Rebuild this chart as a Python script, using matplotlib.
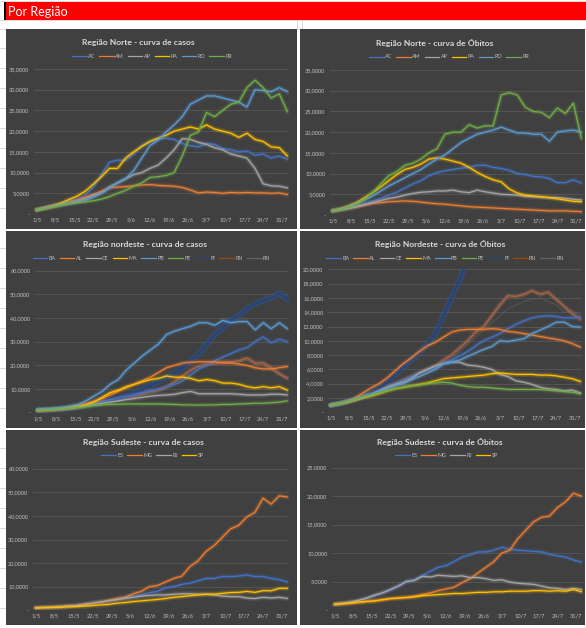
import numpy as np
import matplotlib
matplotlib.use("Agg")
import matplotlib.pyplot as plt
from matplotlib.patches import Rectangle
from matplotlib.lines import Line2D

plt.rcParams['font.family'] = ['Lato', 'DejaVu Sans']

W, H = 586, 628

# sample days (0 = 1/5), every 3 days
DAYS = [0, 3, 6, 9, 12, 15, 18, 21, 24, 27, 30, 33, 36, 39, 42, 45,
        48, 51, 54, 57, 60, 63, 66, 69, 72, 75, 78, 81, 84, 87, 90, 93]
TICK_DAYS = [0, 7, 14, 21, 28, 35, 42, 49, 56, 63, 70, 77, 84, 91]
TICK_LABELS = ['1/5', '8/5', '15/5', '22/5', '29/5', '5/6', '12/6', '19/6',
               '26/6', '3/7', '10/7', '17/7', '24/7', '31/7']

# ---- Região Norte - casos
norte_casos_AC = [1.0, 1.5, 2.0, 2.6, 3.2, 3.5, 4.5, 6.5, 9.5, 12.5, 13.0, 13.0, 14.5, 16.5, 17.5, 18.0,
                  18.3, 18.0, 17.0, 16.5, 16.2, 17.0, 16.8, 15.8, 15.5, 15.0, 15.2, 14.2, 14.5, 13.5, 14.0, 13.2]
norte_casos_AM = [1.0, 1.4, 1.8, 2.3, 2.8, 3.3, 4.0, 4.7, 5.5, 6.3, 6.5, 6.6, 6.8, 7.0, 7.1, 6.9,
                  6.8, 6.7, 6.4, 5.8, 5.1, 5.3, 5.2, 5.0, 5.2, 5.1, 5.2, 5.1, 5.1, 5.0, 5.1, 4.7]
norte_casos_AP = [1.0, 1.4, 1.8, 2.2, 2.6, 3.0, 3.6, 4.5, 5.0, 6.5, 7.5, 8.5, 9.5, 10.0, 11.0, 11.8,
                  13.5, 15.5, 18.2, 18.0, 17.3, 16.8, 16.0, 15.5, 14.5, 14.0, 13.5, 11.0, 7.3, 6.8, 6.7, 6.3]
norte_casos_PA = [1.0, 1.5, 2.0, 2.6, 3.5, 4.3, 5.5, 7.2, 9.0, 11.0, 11.0, 13.5, 15.0, 16.3, 17.5, 18.3,
                  19.0, 20.0, 20.5, 21.0, 20.5, 21.5, 20.5, 20.0, 19.5, 18.5, 19.5, 18.0, 17.5, 16.2, 16.0, 14.0]
norte_casos_RO = [1.0, 1.4, 1.8, 2.2, 2.6, 2.9, 3.3, 4.0, 5.0, 6.3, 7.5, 8.5, 10.5, 13.5, 16.5, 17.8,
                  19.8, 21.5, 23.5, 26.5, 27.5, 28.5, 28.5, 28.0, 27.5, 27.0, 25.8, 30.0, 29.8, 29.5, 30.5, 29.5]
norte_casos_RR = [1.0, 1.3, 1.7, 2.1, 2.4, 2.7, 2.9, 3.2, 3.6, 4.2, 5.0, 5.7, 6.7, 7.5, 8.8, 9.0,
                  9.3, 10.0, 14.0, 19.0, 19.8, 24.5, 23.5, 25.0, 26.5, 27.0, 30.5, 32.3, 30.5, 28.0, 29.0, 24.7]

# ---- Região Norte - óbitos
norte_obitos_AC = [1.0, 1.3, 1.7, 2.2, 2.8, 3.4, 4.0, 4.8, 5.5, 6.5, 7.5, 8.3, 9.5, 10.2, 10.7, 11.0,
                   11.3, 11.5, 12.0, 12.0, 11.5, 11.2, 10.8, 10.0, 9.8, 9.3, 9.2, 8.8, 7.8, 7.8, 8.5, 7.7]
norte_obitos_AM = [1.0, 1.3, 1.6, 2.0, 2.4, 2.8, 3.0, 3.2, 3.3, 3.4, 3.3, 3.1, 2.9, 2.7, 2.6, 2.4,
                   2.2, 2.0, 1.9, 1.8, 1.7, 1.6, 1.5, 1.4, 1.3, 1.2, 1.1, 1.0, 1.0, 1.0, 0.9, 0.8]
norte_obitos_AP = [1.0, 1.3, 1.6, 2.0, 2.5, 3.0, 3.5, 4.0, 4.3, 4.8, 5.2, 5.5, 5.6, 5.8, 5.8, 6.0,
                   5.6, 5.4, 6.0, 5.6, 5.3, 5.0, 4.9, 4.8, 4.5, 4.4, 4.3, 4.2, 4.2, 4.0, 3.8, 3.6]
norte_obitos_PA = [1.0, 1.5, 2.2, 3.0, 4.2, 5.4, 6.8, 8.3, 9.8, 11.0, 11.5, 12.3, 13.5, 13.8, 13.5, 13.0,
                   12.5, 11.5, 10.3, 9.3, 8.5, 8.0, 6.3, 5.3, 4.8, 4.6, 4.4, 4.2, 3.9, 3.6, 3.3, 3.2]
norte_obitos_RO = [1.0, 1.4, 2.0, 2.8, 3.6, 4.6, 5.8, 7.0, 8.0, 9.0, 10.0, 11.0, 12.3, 13.5, 14.5, 16.0,
                   17.5, 18.5, 19.5, 20.0, 20.5, 21.2, 20.5, 19.8, 19.8, 19.5, 19.5, 17.8, 20.0, 20.3, 20.5, 20.0]
norte_obitos_RR = [1.0, 1.3, 1.8, 2.5, 3.8, 5.5, 7.5, 9.5, 10.5, 12.0, 12.5, 13.5, 15.0, 16.0, 19.5, 20.0,
                   20.0, 21.8, 21.0, 21.5, 21.5, 29.0, 29.5, 29.0, 26.0, 25.0, 24.8, 23.5, 25.8, 24.5, 27.0, 18.5]

# ---- Região Nordeste - casos
ne_casos_BA = [1.0, 1.2, 1.4, 1.6, 2.0, 2.5, 3.2, 4.0, 4.8, 5.5, 6.3, 7.0, 7.8, 8.5, 9.3, 10.0,
               11.0, 12.0, 13.5, 16.0, 18.5, 20.0, 22.0, 23.5, 25.0, 26.5, 27.5, 30.0, 32.0, 29.5, 31.0, 30.0]
ne_casos_AL = [1.0, 1.2, 1.5, 1.8, 2.3, 3.0, 3.8, 4.8, 6.0, 7.5, 9.0, 10.5, 12.0, 13.5, 15.0, 17.0,
               19.0, 20.0, 21.0, 21.3, 21.5, 21.5, 21.5, 21.0, 21.0, 20.5, 20.0, 19.0, 18.5, 18.5, 19.0, 19.5]
ne_casos_CE = [1.0, 1.2, 1.4, 1.6, 1.9, 2.3, 2.8, 3.5, 4.0, 4.5, 5.0, 5.5, 6.0, 6.5, 7.0, 7.3,
               7.5, 7.8, 8.5, 9.0, 8.0, 8.0, 8.0, 8.0, 8.0, 7.8, 7.5, 7.5, 7.5, 7.8, 7.8, 7.5]
ne_casos_MA = [1.0, 1.2, 1.4, 1.7, 2.0, 2.6, 3.3, 4.5, 6.5, 8.5, 9.5, 11.0, 12.0, 13.0, 14.0, 14.5,
               15.5, 15.0, 15.0, 14.5, 13.5, 14.0, 13.5, 12.5, 12.5, 12.0, 11.0, 10.5, 11.0, 10.5, 11.0, 9.5]
ne_casos_PB = [1.5, 1.6, 1.8, 2.2, 2.8, 3.5, 5.0, 7.0, 9.0, 12.0, 14.0, 18.0, 21.0, 24.0, 26.5, 29.0,
               33.0, 34.5, 35.5, 36.5, 38.0, 38.0, 37.0, 39.0, 38.0, 38.5, 38.5, 35.0, 38.0, 35.5, 38.0, 35.5]
ne_casos_PE = [1.0, 1.2, 1.4, 1.6, 1.9, 2.2, 2.6, 3.0, 3.3, 3.5, 3.6, 3.7, 3.7, 3.7, 3.7, 3.7,
               3.6, 3.5, 3.3, 3.3, 3.2, 3.3, 3.3, 3.5, 3.5, 3.7, 3.8, 4.0, 4.0, 4.2, 4.5, 5.0]
ne_casos_PI = [1.0, 1.1, 1.3, 1.5, 1.8, 2.3, 2.8, 3.5, 4.2, 5.0, 6.0, 7.0, 8.5, 10.0, 11.5, 13.0,
               15.0, 17.0, 19.0, 22.0, 25.0, 29.0, 33.0, 36.0, 39.0, 41.0, 44.0, 46.0, 47.5, 48.5, 50.5, 48.0]
ne_casos_RN = [1.0, 1.1, 1.3, 1.5, 1.8, 2.3, 2.8, 3.5, 4.2, 5.0, 5.8, 6.5, 7.3, 8.0, 8.8, 9.5,
               11.0, 13.0, 15.5, 18.0, 19.5, 20.5, 21.0, 21.5, 21.5, 22.0, 23.0, 21.0, 21.0, 19.0, 16.5, 14.5]
ne_casos_RN2 = [1.0, 1.1, 1.3, 1.5, 1.8, 2.2, 2.7, 3.3, 4.0, 4.7, 5.4, 6.0, 6.8, 7.5, 8.3, 9.0,
                10.0, 11.5, 13.5, 16.0, 18.5, 20.0, 20.5, 21.0, 21.0, 21.5, 22.0, 20.5, 20.0, 18.0, 16.0, 15.0]

# ---- Região Nordeste - óbitos
ne_obitos_BA = [1.0, 1.2, 1.5, 1.8, 2.2, 2.5, 3.0, 3.5, 4.0, 4.5, 5.0, 5.5, 5.9, 6.3, 6.8, 7.3,
                7.9, 8.5, 9.3, 10.0, 10.5, 11.0, 11.7, 12.3, 12.8, 13.2, 13.4, 13.5, 13.4, 13.2, 13.2, 13.3]
ne_obitos_AL = [1.0, 1.2, 1.5, 2.0, 2.7, 3.4, 4.0, 4.8, 5.8, 6.8, 7.6, 8.5, 9.3, 9.8, 10.5, 11.2,
                11.5, 11.6, 11.6, 11.6, 11.7, 11.6, 11.3, 11.2, 11.0, 10.8, 10.6, 10.4, 10.2, 10.0, 9.6, 9.1]
ne_obitos_CE = [1.0, 1.2, 1.5, 1.8, 2.2, 2.5, 3.0, 3.5, 3.9, 4.2, 4.7, 5.5, 6.0, 6.5, 6.8, 7.0,
                7.0, 6.6, 6.5, 6.3, 6.0, 5.3, 5.0, 4.4, 4.2, 3.9, 3.5, 3.3, 3.2, 3.0, 3.1, 2.7]
ne_obitos_MA = [1.0, 1.2, 1.4, 1.7, 2.0, 2.3, 2.6, 3.0, 3.3, 3.5, 3.7, 3.9, 4.1, 4.4, 4.7, 4.8,
                4.9, 5.0, 5.1, 5.2, 5.4, 5.5, 5.4, 5.3, 5.3, 5.3, 5.2, 5.2, 5.1, 4.9, 4.7, 4.3]
ne_obitos_PB = [1.0, 1.2, 1.5, 1.8, 2.2, 2.5, 2.9, 3.3, 3.7, 4.0, 4.5, 5.0, 5.5, 6.0, 6.8, 7.0,
                7.3, 7.8, 8.3, 8.8, 9.2, 10.0, 9.9, 10.1, 10.3, 11.0, 11.5, 12.0, 12.6, 12.6, 12.0, 11.9]
ne_obitos_PE = [1.0, 1.2, 1.5, 1.8, 2.1, 2.4, 2.7, 3.0, 3.3, 3.5, 3.7, 3.8, 4.0, 4.1, 4.2, 4.1,
                3.8, 3.6, 3.5, 3.5, 3.4, 3.3, 3.2, 3.2, 3.2, 3.2, 3.2, 3.1, 3.0, 2.9, 2.8, 2.6]
ne_obitos_PI = [1.0, 1.2, 1.5, 1.8, 2.2, 2.7, 3.3, 4.2, 5.2, 6.3, 7.3, 8.3, 9.5, 11.0, 13.5, 16.0,
                18.5, 21.5, 25.0]   # leaves the chart after 19/6
ne_obitos_RN = [1.0, 1.2, 1.5, 1.8, 2.2, 2.6, 3.0, 3.5, 4.0, 4.5, 5.0, 5.5, 6.0, 6.5, 7.3, 8.0,
                9.0, 10.0, 11.2, 12.0, 13.5, 15.0, 16.3, 16.2, 16.5, 17.0, 16.5, 16.8, 15.8, 14.8, 13.8, 13.0]
ne_obitos_RN2 = [1.0, 1.2, 1.5, 1.8, 2.2, 2.6, 3.0, 3.5, 4.0, 4.5, 5.0, 5.5, 6.0, 6.5, 7.0, 7.5,
                 8.5, 9.5, 10.5, 11.5, 12.5, 13.5, 14.5, 15.0, 15.5, 15.8, 16.0, 15.5, 15.0, 14.0, 14.3, 13.5]

# ---- Região Sudeste - casos
se_casos_ES = [1.0, 1.2, 1.3, 1.5, 1.8, 2.0, 2.5, 3.0, 3.5, 4.0, 4.5, 5.5, 6.0, 6.5, 7.5, 8.0,
               9.5, 10.0, 11.0, 11.5, 12.5, 13.5, 13.5, 14.3, 14.3, 14.5, 15.0, 14.3, 14.3, 13.5, 13.0, 12.0]
se_casos_MG = [1.0, 1.2, 1.3, 1.5, 1.8, 2.0, 2.5, 3.0, 3.5, 4.2, 5.0, 5.5, 7.0, 8.0, 10.0, 10.5,
               12.0, 13.5, 14.5, 18.5, 21.0, 25.0, 27.5, 31.0, 34.5, 36.0, 39.5, 41.5, 47.5, 45.0, 48.5, 48.0]
se_casos_RJ = [1.0, 1.2, 1.3, 1.5, 1.8, 2.0, 2.5, 3.0, 3.5, 4.0, 4.5, 5.0, 5.5, 6.0, 6.3, 6.5,
               6.5, 6.8, 7.0, 7.0, 6.8, 6.8, 6.5, 6.0, 5.8, 5.8, 5.2, 5.0, 5.5, 5.2, 5.5, 5.0]
se_casos_SP = [1.0, 1.1, 1.2, 1.3, 1.5, 1.6, 1.8, 2.0, 2.3, 2.5, 3.0, 3.3, 3.7, 4.0, 4.3, 4.6,
               5.0, 5.5, 5.8, 6.2, 6.5, 6.8, 6.8, 7.2, 7.5, 7.6, 8.0, 7.6, 8.3, 8.3, 9.3, 9.3]

# ---- Região Sudeste - óbitos
se_obitos_ES = [1.0, 1.2, 1.4, 1.7, 2.0, 2.5, 3.0, 3.5, 4.2, 5.0, 5.3, 6.0, 6.8, 7.5, 7.8, 8.5,
                9.3, 9.7, 10.2, 10.2, 10.5, 11.0, 10.7, 10.5, 10.4, 10.3, 10.2, 9.8, 9.5, 9.3, 8.8, 8.4]
se_obitos_MG = [1.0, 1.1, 1.2, 1.3, 1.5, 1.6, 1.8, 2.0, 2.1, 2.2, 2.4, 2.7, 3.0, 3.4, 3.7, 4.0,
                4.8, 5.5, 6.5, 7.5, 8.5, 10.0, 10.5, 12.5, 14.0, 15.5, 16.3, 16.5, 18.0, 19.0, 20.5, 20.0]
se_obitos_RJ = [1.0, 1.2, 1.4, 1.7, 2.1, 2.6, 3.0, 3.6, 4.2, 5.0, 5.2, 5.9, 5.8, 6.1, 6.0, 5.9,
                6.0, 5.7, 5.7, 5.5, 5.2, 5.3, 4.9, 4.7, 4.6, 4.5, 4.2, 3.9, 3.8, 3.6, 3.8, 3.6]
se_obitos_SP = [1.0, 1.1, 1.2, 1.4, 1.5, 1.6, 1.8, 2.0, 2.1, 2.2, 2.3, 2.5, 2.6, 2.7, 2.8, 2.9,
                2.9, 3.0, 3.1, 3.1, 3.2, 3.2, 3.3, 3.3, 3.3, 3.4, 3.4, 3.3, 3.4, 3.3, 3.6, 3.2]

NORTE_LABELS = ['AC', 'AM', 'AP', 'PA', 'RO', 'RR']
NE_LABELS = ['BA', 'AL', 'CE', 'MA', 'PB', 'PE', 'PI', 'RN', 'RN']
SE_LABELS = ['ES', 'MG', 'RJ', 'SP']

# excel office palette
PALETTE = ['#4472C4', '#ED7D31', '#A5A5A5', '#FFC000', '#5B9BD5',
           '#70AD47', '#264478', '#9E480E', '#636363']

BG = '#404040'
GRID = '#595959'
TXT = '#BFBFBF'


def fx(x):
    return x / W


def fy(y):
    return 1 - y / H


def ytick_fmt(v):
    if v == 0:
        return '-'
    return f"{v:.4f}".replace('.', ',')


def draw_series(ax, xs, vals, c):
    if c == '#264478':
        # blurry dark blue band
        ax.plot(xs, vals, color='#2F5597', lw=4.5, alpha=0.45, solid_capstyle='round')
        ax.plot(xs, vals, color=c, lw=1.6, alpha=0.9, solid_capstyle='round')
    elif c == '#9E480E':
        ax.plot(xs, vals, color='#C0704A', lw=3.4, alpha=0.3, solid_capstyle='round')
        ax.plot(xs, vals, color='#A8684E', lw=0.9, solid_capstyle='round')
    elif c == '#636363':
        # barely visible on the dark background
        ax.plot(xs, vals, color='#6A6A6A', lw=0.8, alpha=0.45, solid_capstyle='round')
    else:
        ax.plot(xs, vals, color=c, lw=3.8, alpha=0.13, solid_capstyle='round')
        ax.plot(xs, vals, color=c, lw=2.2, alpha=0.22, solid_capstyle='round')
        ax.plot(xs, vals, color=c, lw=0.9, solid_capstyle='round')


def draw_chart(fig, area, plot, title, title_xy, legend_xy, labels, series,
               ymax, ystep):
    # chart area (behind the axes)
    l, t, r, b = area
    fig.patches.append(Rectangle((fx(l), fy(b)), (r - l) / W, (b - t) / H,
                                 transform=fig.transFigure, facecolor=BG,
                                 edgecolor='none', zorder=-1))
    pl, pt, pr, pb = plot
    ax = fig.add_axes([fx(pl), fy(pb), (pr - pl) / W, (pb - pt) / H])
    ax.set_zorder(1)
    ax.set_facecolor('none')
    for s in ax.spines.values():
        s.set_visible(False)

    # draw the muted series first so the bright ones stay on top
    order = [8, 7, 6, 0, 1, 2, 3, 4, 5]
    for i in order:
        if i < len(series):
            vals = series[i]
            draw_series(ax, DAYS[:len(vals)], vals, PALETTE[i])

    ax.set_xlim(-1, 93.6)
    ax.set_ylim(0, ymax)
    yt = np.arange(0, ymax + ystep / 2, ystep)
    ax.set_yticks(yt)
    ax.set_yticklabels([ytick_fmt(v) for v in yt])
    ax.set_xticks(TICK_DAYS)
    ax.set_xticklabels(TICK_LABELS)
    ax.tick_params(length=0, labelsize=4.1, labelcolor=TXT)
    ax.tick_params(axis='y', pad=3.4)
    ax.tick_params(axis='x', pad=2.6)
    ax.grid(axis='y', color=GRID, lw=0.6)
    ax.grid(axis='x', visible=False)
    ax.yaxis.get_gridlines()[0].set_visible(False)
    ax.set_axisbelow(True)

    fig.text(fx(title_xy[0]), fy(title_xy[1]), title, ha='center', va='center',
             fontsize=6.1, fontweight='bold', color='#D9D9D9')

    handles = [Line2D([0], [0], color=PALETTE[i], lw=0.9) for i in range(len(labels))]
    fig.legend(handles, labels, loc='center',
               bbox_to_anchor=(fx(legend_xy[0]), fy(legend_xy[1])),
               ncol=len(labels), frameon=False, fontsize=3.9, labelcolor=TXT,
               handlelength=2.7, handletextpad=0.25, columnspacing=0.75,
               borderpad=0, borderaxespad=0)
    return ax


fig = plt.figure(figsize=(W / 100, H / 100), dpi=100)
fig.patch.set_facecolor('white')

# spreadsheet grid lines
for yy in [1, 20, 29]:
    fig.add_artist(Line2D([0, 1], [fy(yy), fy(yy)], color='#D4D4D4', lw=0.6, zorder=-2))
for yy in [48, 68, 88, 108, 128, 148, 168, 188, 208, 248, 268, 288, 308, 328,
           348, 368, 388, 408, 448, 468, 488, 508, 528, 548, 568, 588, 608]:
    fig.add_artist(Line2D([0, fx(5)], [fy(yy), fy(yy)], color='#D4D4D4', lw=0.6, zorder=-2))
for xx in [297.5, 302]:
    fig.add_artist(Line2D([fx(xx), fx(xx)], [fy(20), fy(29)], color='#D4D4D4', lw=0.6, zorder=-2))

# header band
fig.patches.append(Rectangle((fx(5), fy(20)), (586 - 5) / W, 18 / H,
                             transform=fig.transFigure, facecolor='#FF0000',
                             edgecolor='none'))
fig.patches.append(Rectangle((fx(3.5), fy(20)), 2 / W, 18 / H,
                             transform=fig.transFigure, facecolor='black',
                             edgecolor='none'))
fig.text(fx(8), fy(11.5), 'Por Região', color='white', fontsize=9,
         ha='left', va='center')

draw_chart(fig, (6, 29, 296.5, 229), (34, 69, 289, 214),
           'Região Norte - curva de casos', (138, 42), (152, 56), NORTE_LABELS,
           [norte_casos_AC, norte_casos_AM, norte_casos_AP, norte_casos_PA,
            norte_casos_RO, norte_casos_RR], 35, 5)
draw_chart(fig, (299.5, 29, 585, 229), (330, 70, 583, 215),
           'Região Norte - curva de Óbitos', (435, 43), (449, 57), NORTE_LABELS,
           [norte_obitos_AC, norte_obitos_AM, norte_obitos_AP, norte_obitos_PA,
            norte_obitos_RO, norte_obitos_RR], 35, 5)
draw_chart(fig, (6, 231, 296.5, 428), (35, 270.7, 289, 412.7),
           'Região nordeste - curva de casos', (145, 244), (151.5, 258.3), NE_LABELS,
           [ne_casos_BA, ne_casos_AL, ne_casos_CE, ne_casos_MA, ne_casos_PB,
            ne_casos_PE, ne_casos_PI, ne_casos_RN, ne_casos_RN2], 60, 10)
draw_chart(fig, (299.5, 231, 585, 428), (328, 269.3, 582, 412.3),
           'Região Nordeste - curva de Óbitos', (440, 244.3), (445, 258.7), NE_LABELS,
           [ne_obitos_BA, ne_obitos_AL, ne_obitos_CE, ne_obitos_MA, ne_obitos_PB,
            ne_obitos_PE, ne_obitos_PI, ne_obitos_RN, ne_obitos_RN2], 20, 2)
draw_chart(fig, (6, 430, 296.5, 625), (33, 468.7, 289, 610.3),
           'Região Sudeste - curva de casos', (143, 442), (152.5, 455.7), SE_LABELS,
           [se_casos_ES, se_casos_MG, se_casos_RJ, se_casos_SP], 60, 10)
draw_chart(fig, (299.5, 430, 585, 625), (332, 467.7, 583, 610),
           'Região Sudeste - curva de Óbitos', (440, 442.3), (446.5, 455.3), SE_LABELS,
           [se_obitos_ES, se_obitos_MG, se_obitos_RJ, se_obitos_SP], 25, 5)

fig.savefig('out.png', dpi=100)
